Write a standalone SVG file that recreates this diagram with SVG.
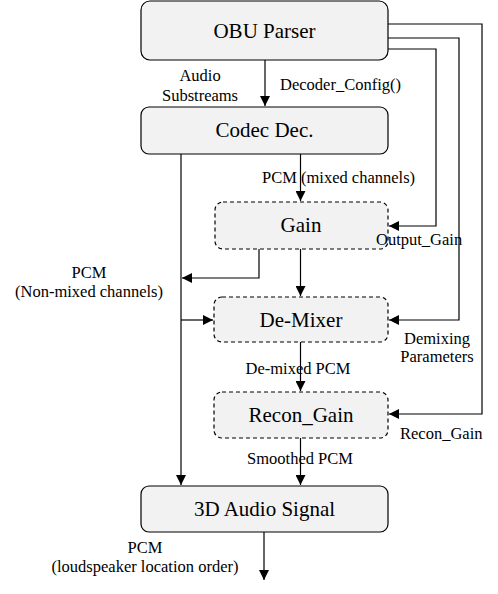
<svg xmlns="http://www.w3.org/2000/svg" width="498" height="594" viewBox="0 0 498 594">
<style>
.box{fill:#f2f2f2;stroke:#000;stroke-width:1.2}
.dash{stroke-dasharray:4 3}
.ln{fill:none;stroke:#000;stroke-width:1.2}
</style>
<defs>
<marker id="ah" viewBox="0 0 10 10" refX="10" refY="5" markerWidth="10" markerHeight="10" markerUnits="userSpaceOnUse" orient="auto">
<path d="M0,0 L10,5 L0,10 z" fill="#000"/>
</marker>
</defs>
<rect width="498" height="594" fill="#fff"/>
<g id="connectors">
<path class="ln" d="M265,60 V106" marker-end="url(#ah)"/>
<path class="ln" d="M388,24 H482 V414 H389" marker-end="url(#ah)"/>
<path class="ln" d="M388,38 H459 V320 H389" marker-end="url(#ah)"/>
<path class="ln" d="M388,49 H436 V226 H389" marker-end="url(#ah)"/>
<path class="ln" d="M300.5,154 V201" marker-end="url(#ah)"/>
<path class="ln" d="M181,154 V485" marker-end="url(#ah)"/>
<path class="ln" d="M259,249 V278 H182" marker-end="url(#ah)"/>
<path class="ln" d="M300.5,249 V296" marker-end="url(#ah)"/>
<path class="ln" d="M181,320 H213" marker-end="url(#ah)"/>
<path class="ln" d="M300.5,342 V391" marker-end="url(#ah)"/>
<path class="ln" d="M300.5,438 V485" marker-end="url(#ah)"/>
<path class="ln" d="M264,532 V580" marker-end="url(#ah)"/>
</g>
<g id="obu">
<rect class="box" x="141" y="1" width="247" height="59" rx="9"/>
<text x="264.5" y="38" font-family="Liberation Serif" font-size="21" text-anchor="middle">OBU Parser</text>
</g>
<g id="codec">
<rect class="box" x="141" y="107" width="247" height="47" rx="8"/>
<text x="264.5" y="137" font-family="Liberation Serif" font-size="21" text-anchor="middle">Codec Dec.</text>
</g>
<g id="gain">
<rect class="box dash" x="215" y="202" width="173" height="47" rx="8"/>
<text x="301" y="232" font-family="Liberation Serif" font-size="21" text-anchor="middle">Gain</text>
</g>
<g id="demixer">
<rect class="box dash" x="214" y="297" width="174" height="45" rx="8"/>
<text x="301" y="327" font-family="Liberation Serif" font-size="21" text-anchor="middle">De-Mixer</text>
</g>
<g id="recon">
<rect class="box dash" x="214" y="392" width="174" height="46" rx="8"/>
<text x="301" y="422" font-family="Liberation Serif" font-size="21" text-anchor="middle">Recon_Gain</text>
</g>
<g id="audio3d">
<rect class="box" x="141" y="486" width="247" height="46" rx="8"/>
<text x="264.5" y="516" font-family="Liberation Serif" font-size="21" text-anchor="middle">3D Audio Signal</text>
</g>
<g id="labels" font-family="Liberation Serif" font-size="16.5">
<text x="200" y="81" text-anchor="middle">Audio</text>
<text x="200" y="101" text-anchor="middle">Substreams</text>
<text x="280" y="90">Decoder_Config()</text>
<text x="262" y="183">PCM (mixed channels)</text>
<text x="376" y="245">Output_Gain</text>
<text x="89" y="278" text-anchor="middle">PCM</text>
<text x="89" y="297" text-anchor="middle">(Non-mixed channels)</text>
<text x="437" y="344" text-anchor="middle">Demixing</text>
<text x="437" y="362" text-anchor="middle">Parameters</text>
<text x="298" y="374" text-anchor="middle">De-mixed PCM</text>
<text x="400" y="439">Recon_Gain</text>
<text x="300" y="464" text-anchor="middle">Smoothed PCM</text>
<text x="145" y="553" text-anchor="middle">PCM</text>
<text x="145" y="572" text-anchor="middle">(loudspeaker location order)</text>
</g>
</svg>
